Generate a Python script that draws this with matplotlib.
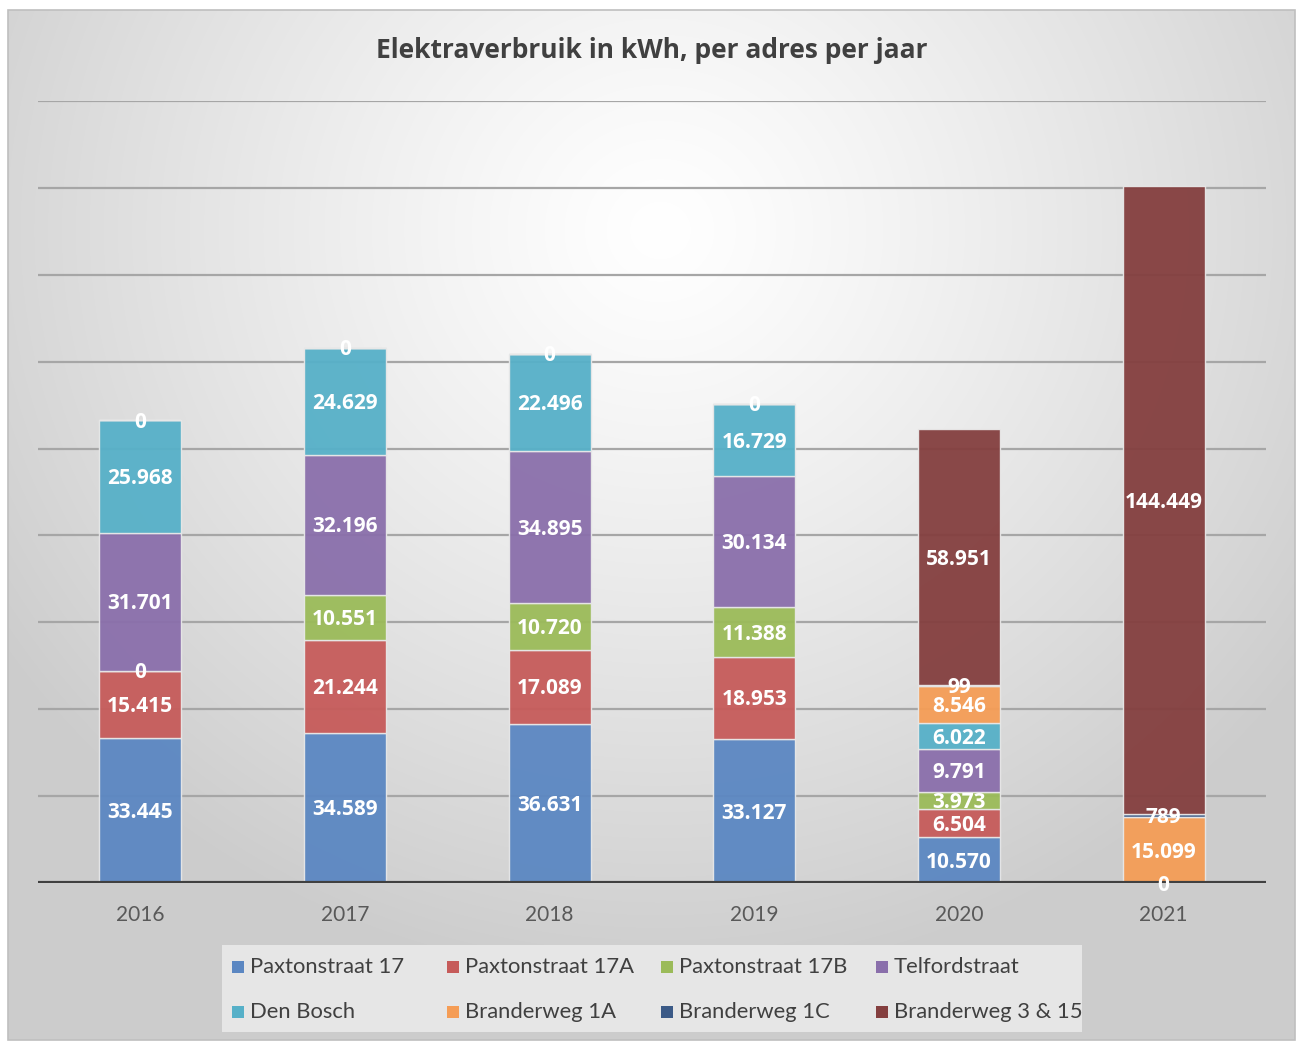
import numpy as np
import matplotlib
matplotlib.use("Agg")
import matplotlib.pyplot as plt
from matplotlib.patches import Rectangle
from matplotlib.transforms import offset_copy

plt.rcParams['font.family'] = ['Lato', 'DejaVu Sans']
BOLD = ['Open Sans', 'DejaVu Sans']

years = ["2016", "2017", "2018", "2019", "2020", "2021"]
series_names = ["Paxtonstraat 17", "Paxtonstraat 17A", "Paxtonstraat 17B", "Telfordstraat",
                "Den Bosch", "Branderweg 1A", "Branderweg 1C", "Branderweg 3 & 15"]
nan = np.nan
paxton17 = [33445, 34589, 36631, 33127, 10570, 0]
paxton17a = [15415, 21244, 17089, 18953, 6504, nan]
paxton17b = [0, 10551, 10720, 11388, 3973, nan]
telford = [31701, 32196, 34895, 30134, 9791, nan]
den_bosch = [25968, 24629, 22496, 16729, 6022, nan]
brander1a = [0, 0, 0, 0, 8546, 15099]
brander1c = [nan, nan, nan, nan, 99, 789]
brander3 = [nan, nan, nan, nan, 58951, 144449]
all_series = [paxton17, paxton17a, paxton17b, telford, den_bosch, brander1a, brander1c, brander3]
colors = ["#5b87c2", "#c65b5a", "#9bbb59", "#8a6fab", "#56b0c8", "#f59d56", "#3b5a87", "#843f3f"]

W, H = 1300, 1041
fig = plt.figure(figsize=(W / 100, H / 100), dpi=100)

# background with radial gradient
bg = fig.add_axes([0, 0, 1, 1])
bg.set_xlim(0, W)
bg.set_ylim(H, 0)
bg.axis('off')
yy, xx = np.mgrid[10:1040, 8:1295]
r = np.sqrt(((xx - 660) / 800.0) ** 2 + ((yy - 230) / 760.0) ** 2)
r = np.clip(r, 0, 1)
val = 1.0 - 0.2 * r ** 1.2
img = np.dstack([val, val, val])
bg.imshow(img, extent=(8, 1295, 1040, 10), aspect='auto', interpolation='bilinear')
bg.add_patch(Rectangle((8, 10), 1287, 1030, fill=False, edgecolor="#bfbfbf", lw=1.2))

# legend box
bg.add_patch(Rectangle((222, 945), 860, 87, facecolor="#e6e6e6", edgecolor="none"))
leg_x = [232, 447, 661, 876]
leg_y = [967, 1012]
for i, (name, c) in enumerate(zip(series_names, colors)):
    x = leg_x[i % 4]
    y = leg_y[i // 4]
    bg.add_patch(Rectangle((x, y - 6), 12, 12, facecolor=c, edgecolor="none"))
    bg.text(x + 18, y, name, fontsize=15.8, color="#404040", va='center', ha='left')

bg.text(652, 51, "Elektraverbruik in kWh, per adres per jaar", fontsize=19, fontweight='bold',
        family=BOLD, color="#404040", ha='center', va='center')

# main axes
left = 38 / W
right = 1266 / W
bottom = (H - 883) / H
top = (H - 101) / H
ax = fig.add_axes([left, bottom, right - left, top - bottom])
ax.patch.set_alpha(0)
ax.set_xlim(-0.5, 5.5)
ax.set_ylim(0, 180000)
for s in ax.spines.values():
    s.set_visible(False)
ax.set_yticks([])
for g in range(20000, 180001, 20000):
    ax.axhline(g, color="#a6a6a6", lw=1.6, zorder=0)

lbl_tr = offset_copy(ax.transData, fig=fig, x=0, y=-1.5, units='points')
x = np.arange(len(years))
bottoms = np.zeros(len(years))
for vals, c in zip(all_series, colors):
    v = np.array(vals, dtype=float)
    h = np.nan_to_num(v)
    ax.bar(x, h, 0.4, bottom=bottoms, color=c, edgecolor="#e8e8e8", linewidth=1.0, zorder=2, alpha=0.95)
    for xi, vi, b in zip(x, v, bottoms):
        if np.isnan(vi):
            continue
        lbl = f"{int(vi):,}".replace(",", ".")
        ax.text(xi, b + vi / 2, lbl, ha='center', va='center', color='white', family=BOLD,
                fontsize=15, fontweight='bold', zorder=4, transform=lbl_tr)
    bottoms = bottoms + h

ax.axhline(0, color="#404040", lw=3, zorder=3)
ax.set_xticks(x)
ax.set_xticklabels(years, fontsize=15, color="#595959")
ax.tick_params(axis='x', length=0, pad=16)

fig.savefig("out.png", dpi=100)
